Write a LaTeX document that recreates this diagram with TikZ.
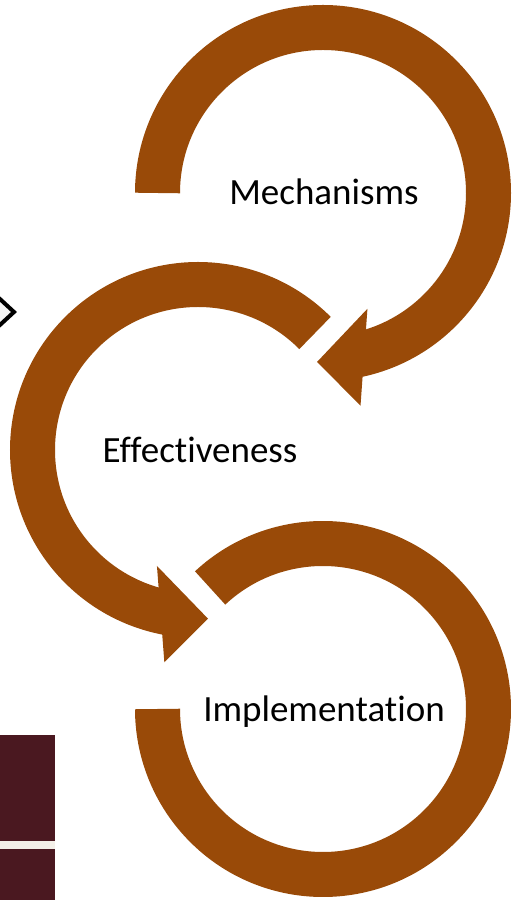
\documentclass[tikz,border=0pt]{standalone}
\usepackage{fontspec}
\setmainfont{Carlito}[Ligatures=NoCommon]
\usepackage{tikz}
\usetikzlibrary{positioning}
\usepackage{xcolor}
\definecolor{CycleBrown}{HTML}{994A08}
\definecolor{BarMaroon}{HTML}{4A1820}
\definecolor{BarCream}{HTML}{F3EFE8}

\begin{document}
\begin{tikzpicture}[
    x=0.5pt, y=0.5pt,
    every node/.style={
        text=black,
        font=\fontsize{18.5}{22}\selectfont,
        inner sep=0pt
    },
    ring/.style={
        draw=CycleBrown,
        line width=22.5pt
    },
    head/.style={
        fill=CycleBrown
    }
]

\useasboundingbox (0,0) rectangle (520,900);
\clip (0,0) rectangle (520,900);
\fill[white] (0,0) rectangle (520,900);

\coordinate (m) at (323,707);
\coordinate (e) at (198,450);
\coordinate (i) at (323,191);

\draw[ring] ([shift={(180:165.5)}]m) arc[start angle=180, end angle=-78, radius=165.5];
\fill[head, shift={(m)}] (-69:124) -- (-80:216) -- (-92:169) -- cycle;

\draw[ring] ([shift={(45:165.5)}]e) arc[start angle=45, end angle=259, radius=165.5];
\fill[head, shift={(e)}] (-109.5:123) -- (-99:215) -- (-86.6:169) -- cycle;

\draw[ring] ([shift={(133:165.5)}]i) arc[start angle=133, end angle=-180, radius=165.5];

\node[anchor=base] (mech) at (324,695) {Mechanisms};
\node[anchor=base] (eff) at (200,437) {Effectiveness};
\node[anchor=base] (impl) at (324,178) {Implementation};

\draw[line width=2pt, fill=gray!8, line join=miter] (-12,612) -- (14,588) -- (-12,564);

\fill[BarMaroon] (0,59) rectangle (55,165);
\fill[BarCream] (0,51) rectangle (55,59);
\fill[BarMaroon] (0,0) rectangle (55,51);

\end{tikzpicture}
\end{document}
